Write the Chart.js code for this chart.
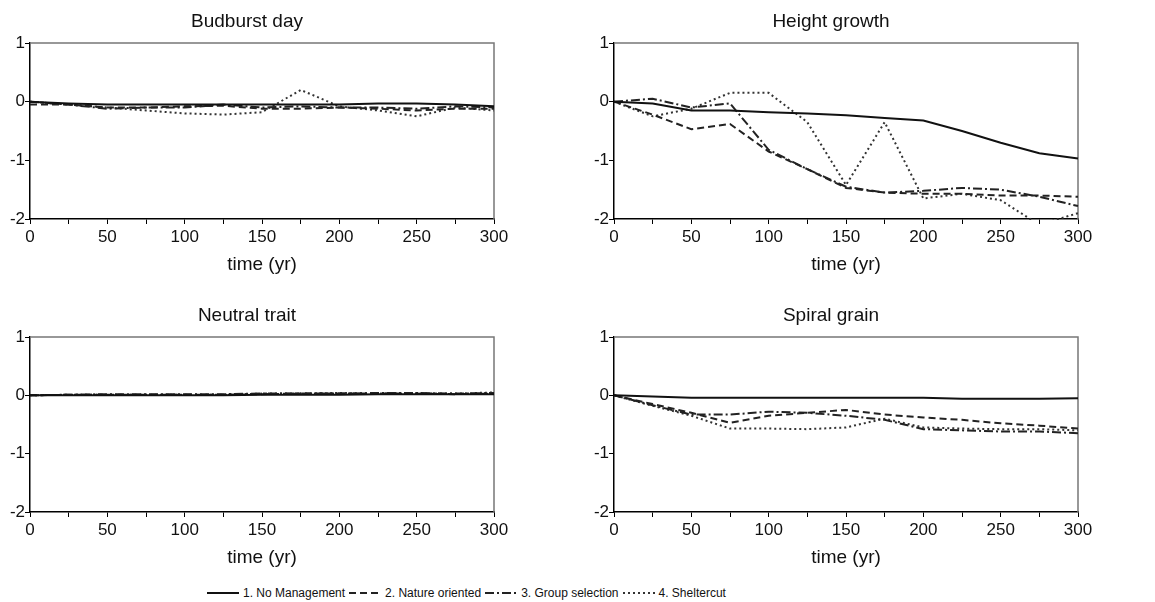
<!DOCTYPE html>
<html>
<head>
<meta charset="utf-8">
<script src="https://cdn.jsdelivr.net/npm/chart.js@4"></script>
<style>
    body { margin: 0; background: #fff; font-family: "Liberation Sans", Arial, sans-serif; }
    .panel { position: absolute; }
    #legend { position: absolute; left: 207px; top: 586px; display: flex; align-items: center; font-size: 12px; color: #111; }
    #legend .item { display: flex; align-items: center; margin-right: 4px; }
    #legend svg { margin-right: 4px; }
</style>
</head>
<body>
<div class="panel" id="p0" style="left:0px;top:0px;width:575px;height:290px"><canvas id="c0"></canvas></div>
<div class="panel" id="p1" style="left:584px;top:0px;width:571px;height:290px"><canvas id="c1"></canvas></div>
<div class="panel" id="p2" style="left:0px;top:294px;width:575px;height:289px"><canvas id="c2"></canvas></div>
<div class="panel" id="p3" style="left:584px;top:294px;width:571px;height:289px"><canvas id="c3"></canvas></div>
<div id="legend"></div>
<script>
const years = [0, 25, 50, 75, 100, 125, 150, 175, 200, 225, 250, 275, 300];
const seriesNames = ['1. No Management', '2. Nature oriented', '3. Group selection', '4. Sheltercut'];
const panelTitles = ['Budburst day', 'Height growth', 'Neutral trait', 'Spiral grain'];
const yTicks = [-2, -1, 0, 1];

// Budburst day
const budNoMgmt   = [0, -0.03, -0.05, -0.05, -0.05, -0.05, -0.05, -0.05, -0.05, -0.03, -0.03, -0.05, -0.08];
const budNature   = [-0.05, -0.05, -0.1, -0.1, -0.08, -0.07, -0.12, -0.12, -0.1, -0.12, -0.15, -0.12, -0.12];
const budGroup    = [0, -0.05, -0.12, -0.1, -0.1, -0.05, -0.1, -0.08, -0.1, -0.1, -0.12, -0.08, -0.1];
const budShelter  = [0, -0.05, -0.1, -0.15, -0.2, -0.22, -0.18, 0.2, -0.08, -0.15, -0.25, -0.1, -0.15];

// Height growth
const hgtNoMgmt   = [0, -0.03, -0.15, -0.15, -0.18, -0.2, -0.23, -0.28, -0.32, -0.5, -0.7, -0.88, -0.97];
const hgtNature   = [0, -0.22, -0.47, -0.38, -0.85, -1.15, -1.47, -1.55, -1.57, -1.57, -1.6, -1.6, -1.62];
const hgtGroup    = [0, 0.05, -0.1, -0.03, -0.82, -1.15, -1.45, -1.55, -1.52, -1.47, -1.5, -1.62, -1.78];
const hgtShelter  = [0, -0.25, -0.12, 0.15, 0.15, -0.35, -1.42, -0.35, -1.65, -1.57, -1.68, -2.1, -1.9];

// Neutral trait
const neuNoMgmt   = [0, 0, 0, 0, 0, 0, 0.01, 0.01, 0.01, 0.02, 0.02, 0.02, 0.02];
const neuNature   = [0, 0.01, 0.01, 0.01, 0.01, 0.01, 0.02, 0.03, 0.03, 0.03, 0.03, 0.02, 0.03];
const neuGroup    = [0, 0.01, 0.02, 0.02, 0.02, 0.02, 0.03, 0.03, 0.03, 0.04, 0.04, 0.03, 0.04];
const neuShelter  = [0, 0.01, 0.01, 0.01, 0.01, 0.01, 0.03, 0.03, 0.04, 0.03, 0.03, 0.03, 0.05];

// Spiral grain
const spiNoMgmt   = [0, -0.02, -0.04, -0.04, -0.04, -0.04, -0.04, -0.04, -0.04, -0.06, -0.06, -0.06, -0.05];
const spiNature   = [0, -0.15, -0.3, -0.47, -0.35, -0.3, -0.25, -0.33, -0.38, -0.42, -0.48, -0.52, -0.57];
const spiGroup    = [0, -0.17, -0.33, -0.33, -0.28, -0.3, -0.35, -0.42, -0.58, -0.6, -0.62, -0.62, -0.65];
const spiShelter  = [0, -0.18, -0.35, -0.57, -0.57, -0.58, -0.55, -0.4, -0.55, -0.57, -0.58, -0.58, -0.6];

const panelSeries = [
    [budNoMgmt, budNature, budGroup, budShelter],
    [hgtNoMgmt, hgtNature, hgtGroup, hgtShelter],
    [neuNoMgmt, neuNature, neuGroup, neuShelter],
    [spiNoMgmt, spiNature, spiGroup, spiShelter]
];

// line styles for the four scenarios
const lineDashes = [[], [7, 4], [9, 3, 2, 3], [2, 3]];
const lineColors = ['#111', '#222', '#222', '#333'];
const lineWidths = [2, 2, 2, 2];
const fontFamily = '"Liberation Sans", Arial, sans-serif';

// gray top and right edges of the plot box
const boxLines = {
    id: 'boxLines',
    beforeDatasetsDraw(chart) {
        const { ctx, chartArea: a } = chart;
        ctx.save();
        ctx.strokeStyle = '#777';
        ctx.lineWidth = 1.5;
        ctx.beginPath();
        ctx.moveTo(a.left, a.top);
        ctx.lineTo(a.right, a.top);
        ctx.lineTo(a.right, a.bottom);
        ctx.stroke();
        ctx.restore();
    }
};

function makePanel(i) {
    const ctx = document.getElementById('c' + i).getContext('2d');
    const canvasWidth = (i % 2 === 0) ? 575 : 571;
    const datasets = panelSeries[i].map((vals, s) => ({
        label: seriesNames[s],
        data: years.map((yr, k) => ({ x: yr, y: vals[k] })),
        borderColor: lineColors[s],
        borderWidth: lineWidths[s],
        borderDash: lineDashes[s],
        pointRadius: 0,
        tension: 0,
        fill: false,
        clip: 1
    }));
    new Chart(ctx, {
        type: 'line',
        data: { datasets: datasets },
        options: {
            responsive: true,
            maintainAspectRatio: false,
            animation: false,
            layout: { padding: { left: 0, top: 0, bottom: 0, right: canvasWidth - 30 - 464 } },
            plugins: {
                legend: { display: false },
                tooltip: { enabled: false },
                title: {
                    display: true,
                    text: panelTitles[i],
                    color: '#111',
                    font: { family: fontFamily, size: 19, weight: 'normal' },
                    padding: { top: 10.6, bottom: 9.6 }
                }
            },
            scales: {
                x: {
                    type: 'linear',
                    min: 0,
                    max: 300,
                    afterFit: s => { s.height = 71; },
                    border: { display: true, color: '#000', width: 1.5 },
                    grid: { drawOnChartArea: false, drawTicks: true, tickLength: 5, color: '#000', lineWidth: 1 },
                    ticks: {
                        stepSize: 25,
                        padding: 3,
                        color: '#111',
                        maxRotation: 0,
                        autoSkip: false,
                        font: { family: fontFamily, size: 17 },
                        callback: v => (v % 50 === 0 ? v : '')
                    },
                    title: {
                        display: true,
                        text: 'time (yr)',
                        color: '#111',
                        font: { family: fontFamily, size: 19 },
                        padding: { top: 0, bottom: 13.6 }
                    }
                },
                y: {
                    min: yTicks[0],
                    max: yTicks[yTicks.length - 1],
                    afterFit: s => { s.width = 30; },
                    afterBuildTicks: s => { s.ticks = yTicks.map(v => ({ value: v })); },
                    border: { display: true, color: '#000', width: 1.5 },
                    grid: { drawOnChartArea: false, drawTicks: true, tickLength: 5, color: '#000', lineWidth: 1 },
                    ticks: {
                        padding: 0,
                        color: '#111',
                        font: { family: fontFamily, size: 17 }
                    }
                }
            }
        },
        plugins: [boxLines]
    });
}

for (let i = 0; i < 4; i++) makePanel(i);

// legend under the panels
const legendDiv = document.getElementById('legend');
seriesNames.forEach((name, s) => {
    const item = document.createElement('div');
    item.className = 'item';
    const dash = lineDashes[s].length ? lineDashes[s].join(',') : 'none';
    item.innerHTML = `<svg width="32" height="8"><line x1="0" y1="4" x2="32" y2="4" stroke="${lineColors[s]}" stroke-width="2" stroke-dasharray="${dash}"/></svg><span>${name}</span>`;
    legendDiv.appendChild(item);
});
</script>
</body>
</html>
